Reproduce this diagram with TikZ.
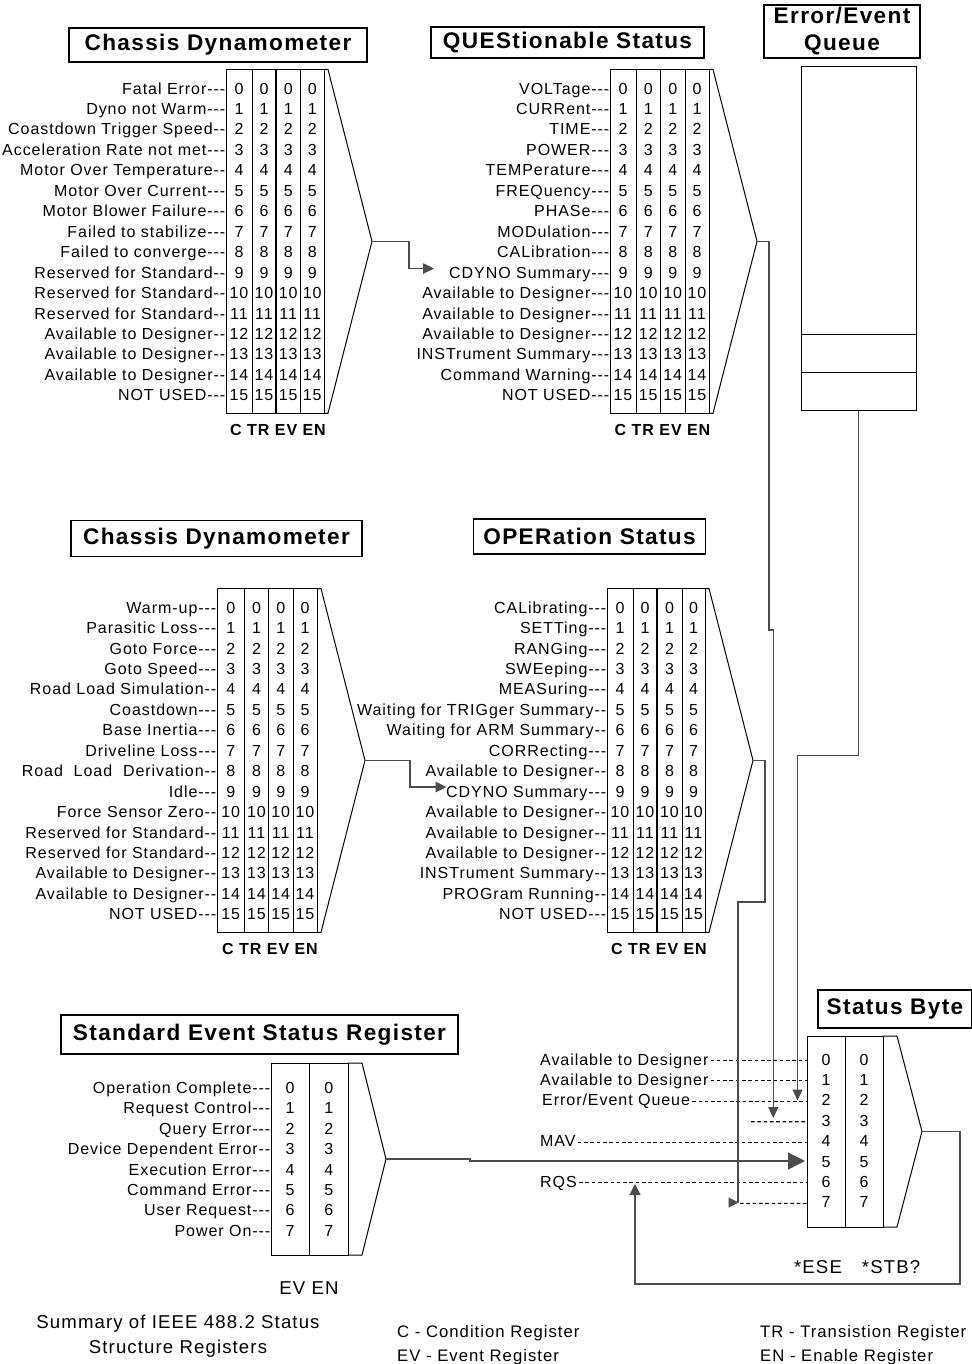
\documentclass[tikz,border=0pt]{standalone}
\usepackage{fontspec}
\setmainfont{Liberation Sans}[LetterSpace=6,Ligatures=TeXOff]
\usetikzlibrary{arrows.meta}
\newcommand\lblfont{\fontsize{16}{19}\selectfont}
\newcommand\ttlfont{\fontsize{22.6}{27}\selectfont\bfseries}
\newcommand\capfont{\fontsize{18.6}{22}\selectfont}
\newcommand\legfont{\fontsize{16.7}{20}\selectfont}
\tikzset{
  box/.style={draw=black,line width=1pt},
  thickdiv/.style={draw=black,line width=1.9pt},
  title/.style={draw=black,line width=1.4pt,inner sep=0pt,font=\ttlfont,align=center},
  dig/.style={font=\lblfont,anchor=base,inner sep=0pt},
  lbl/.style={font=\lblfont,anchor=base east,inner sep=0pt},
  lblw/.style={font=\lblfont,anchor=base west,inner sep=0pt},
  colhdr/.style={font=\lblfont\bfseries,inner sep=0pt},
  conn/.style={draw=black!70,line width=1.2pt},
  dashln/.style={draw=black,line width=1.1pt,dash pattern=on 3.6pt off 2.7pt},
  legtxt/.style={font=\legfont,anchor=base west,inner sep=0pt},
  captxt/.style={font=\capfont,inner sep=0pt},
}
% #1 name, #2 left, #3 div1, #4 thick div, #5 div3, #6 right, #7 y of row 0
\newcommand\fourreg[7]{%
  \pgfmathsetmacro\rgTop{#7-19}%
  \pgfmathsetmacro\rgBot{#7+15*20.45+18}%
  \pgfmathsetmacro\rgMid{(\rgTop+\rgBot)/2}%
  \draw[box] (#2,\rgTop) rectangle (#6,\rgBot);
  \draw[box] (#3,\rgTop) -- (#3,\rgBot) (#5,\rgTop) -- (#5,\rgBot);
  \draw[thickdiv] (#4,\rgTop) -- (#4,\rgBot);
  \draw[box] (#6,\rgTop) -- ({#6+4},\rgTop) -- ({#6+48},\rgMid) coordinate (#1-tip)
     -- ({#6+4},\rgBot) -- (#6,\rgBot);
  \foreach \i in {0,...,15}{%
    \node[dig] (#1-a\i) at ({(#2+#3)/2},{#7+20.45*\i+5.6}) {\i};
    \node[dig] (#1-b\i) at ({(#3+#4)/2},{#7+20.45*\i+5.6}) {\i};
    \node[dig] (#1-c\i) at ({(#4+#5)/2},{#7+20.45*\i+5.6}) {\i};
    \node[dig] (#1-d\i) at ({(#5+#6)/2},{#7+20.45*\i+5.6}) {\i};
  }
  \node[colhdr] (#1-hdr) at ({(#2+#6)/2+3},{\rgBot+17}) {C TR EV EN};
}
\begin{document}
\begin{tikzpicture}[x=1pt,y=-1pt]
\useasboundingbox (0,0) rectangle (971,1364);
\fill[white] (0,0) rectangle (971,1364);

% ---------- titles ----------
\node[title,minimum width=298pt,minimum height=34pt] (t-cdA) at (218,45) {Chassis Dynamometer};
\node[title,minimum width=273pt,minimum height=31pt] (t-qs) at (567.5,42.5) {QUEStionable Status};
\node[title,minimum width=156pt,minimum height=53pt] (t-eq) at (842,31.5) {Error/Event\\Queue};
\node[title,minimum width=291pt,minimum height=36pt] (t-cdB) at (216.5,538.5) {Chassis Dynamometer};
\node[title,minimum width=232pt,minimum height=35pt] (t-op) at (589.5,536.5) {OPERation Status};
\node[title,minimum width=397pt,minimum height=39pt] (t-se) at (259.5,1034.5) {Standard Event Status Register};
\node[title,minimum width=154pt,minimum height=38pt] (t-sb) at (895,1009) {Status Byte};

% ---------- 16-bit registers ----------
\fourreg{cdA}{226}{252}{276}{300.5}{324}{88.5}
\fourreg{qs}{610}{636}{660.5}{685}{709}{88.5}
\fourreg{cdB}{217}{244.5}{268.5}{293}{317}{607.5}
\fourreg{op}{607}{633}{657}{682}{705}{607.5}

\foreach \lab [count=\i from 0] in {Fatal Error---, Dyno not Warm---, Coastdown Trigger Speed--,
  Acceleration Rate not met---, Motor Over Temperature--, Motor Over Current---,
  Motor Blower Failure---, Failed to stabilize---, Failed to converge---,
  Reserved for Standard--, Reserved for Standard--, Reserved for Standard--,
  Available to Designer--, Available to Designer--, Available to Designer--, NOT USED---}
  \node[lbl] (cdA-l\i) at (225.5,{88.5+20.45*\i+5.6}) {\lab};

\foreach \lab [count=\i from 0] in {VOLTage---, CURRent---, TIME---, POWER---, TEMPerature---,
  FREQuency---, PHASe---, MODulation---, CALibration---, CDYNO Summary---,
  Available to Designer---, Available to Designer---, Available to Designer---,
  INSTrument Summary---, Command Warning---, NOT USED---}
  \node[lbl] (qs-l\i) at (609.5,{88.5+20.45*\i+5.6}) {\lab};

\foreach \lab [count=\i from 0] in {Warm-up---, Parasitic Loss---, Goto Force---, Goto Speed---,
  Road Load Simulation--, Coastdown---, Base Inertia---, Driveline Loss---,
  Road\ \ Load\ \ Derivation--, Idle---, Force Sensor Zero--, Reserved for Standard--,
  Reserved for Standard--, Available to Designer--, Available to Designer--, NOT USED---}
  \node[lbl] (cdB-l\i) at (216.5,{607.5+20.45*\i+5.6}) {\lab};

\foreach \lab [count=\i from 0] in {CALibrating---, SETTing---, RANGing---, SWEeping---,
  MEASuring---, Waiting for TRIGger Summary--, Waiting for ARM Summary--, CORRecting---,
  Available to Designer--, CDYNO Summary---, Available to Designer--, Available to Designer--,
  Available to Designer--, INSTrument Summary--, PROGram Running--, NOT USED---}
  \node[lbl] (op-l\i) at (606.5,{607.5+20.45*\i+5.6}) {\lab};

% ---------- error / event queue ----------
\node[draw=black,line width=1pt,minimum width=115pt,minimum height=343pt,inner sep=0pt] (queue) at (858.5,238.5) {};
\draw[box] (801,334) -- (916,334) (801,372.5) -- (916,372.5);

% ---------- standard event status register ----------
\draw[box] (271,1063) rectangle (348,1255);
\draw[box] (309.5,1063) -- (309.5,1255);
\draw[box] (348,1063) -- (362,1063) -- (386,1159) coordinate (se-tip) -- (362,1255) -- (348,1255);
\foreach \i in {0,...,7}{
  \node[dig] (se-a\i) at (290,{1088+20.35*\i+5.6}) {\i};
  \node[dig] (se-b\i) at (328.7,{1088+20.35*\i+5.6}) {\i};
}
\foreach \lab [count=\i from 0] in {Operation Complete---, Request Control---, Query Error---,
  Device Dependent Error--, Execution Error---, Command Error---, User Request---, Power On---}
  \node[lbl] (se-l\i) at (270.5,{1088+20.35*\i+5.6}) {\lab};
\node[captxt] (se-hdr) at (309,1288) {EV EN};

% ---------- status byte ----------
\draw[box] (807,1036) rectangle (883,1227);
\draw[box] (845,1036) -- (845,1227);
\draw[box] (883,1036) -- (897,1036) -- (922,1131.5) coordinate (sb-tip) -- (897,1227) -- (883,1227);
\foreach \i in {0,...,7}{
  \node[dig] (sb-a\i) at (826,{1059.5+20.4*\i+5.6}) {\i};
  \node[dig] (sb-b\i) at (864,{1059.5+20.4*\i+5.6}) {\i};
  \coordinate (sb-r\i) at (807,{1060.5+20.4*\i});
}
\node[lblw] (sb-l0) at (540,{1059.5+5.6}) {Available to Designer};
\node[lblw] (sb-l1) at (540,{1059.5+20.4+5.6}) {Available to Designer};
\node[lblw] (sb-l2) at (542,{1059.5+40.8+5.6}) {Error/Event Queue};
\node[lblw] (sb-l4) at (540,{1059.5+81.6+5.6}) {MAV};
\node[lblw] (sb-l6) at (540,{1059.5+122.4+5.6}) {RQS};
\draw[dashln] ([xshift=2pt]sb-l0.east |- sb-r0) -- (sb-r0);
\draw[dashln] ([xshift=2pt]sb-l1.east |- sb-r1) -- (sb-r1);
\draw[dashln] ([xshift=2pt]sb-l2.east |- sb-r2) -- (sb-r2);
\draw[dashln] (751,{1060.5+61.2}) -- (sb-r3);
\draw[dashln] ([xshift=2pt]sb-l4.east |- sb-r4) -- (sb-r4);
\draw[dashln] ([xshift=2pt]sb-l6.east |- sb-r6) -- (sb-r6);
\draw[dashln] (740,{1060.5+142.8}) -- (sb-r7);
\node[captxt] (ese) at (818,1267) {*ESE};
\node[captxt] (stb) at (891,1267) {*STB?};

\coordinate (qs-in9) at (434,{88.5+20.45*9-4});
\coordinate (op-in9) at (446.5,{607.5+20.45*9-4.5});
\coordinate (sb-in2) at (797.5,1100.5);
\coordinate (sb-in3) at (773.3,1118);
\coordinate (sb-in5) at (805,1161);
\coordinate (sb-in6) at (635,1184);
\coordinate (sb-in7) at (738.5,1202.5);

% ---------- connectors ----------
\draw[conn,-{Triangle[length=11pt,width=10.5pt]}] (cdA-tip) -- ++(37,0) |- (qs-in9);
\draw[conn,-{Triangle[length=11pt,width=10.5pt]}] (cdB-tip) -- ++(45,0) |- (op-in9);
\draw[conn,-{Triangle[length=11pt,width=10pt]}] (qs-tip) -- ++(12,0) |- (773.3,630) -- (sb-in3);
\draw[conn,-{Triangle[length=11pt,width=10pt]}] (queue.south) -- ++(0,345) -| (sb-in2);
\draw[conn] (op-tip) -- ++(12,0) |- (738,902) -- (738,1202.5);
\draw[conn,-{Triangle[length=10pt,width=10pt]}] ([xshift=-10pt]sb-in7) -- (sb-in7);
\draw[conn,-{Triangle[length=17pt,width=17pt]}] (se-tip) -- ++(84,0) -- ++(0,2) -- (sb-in5);
\draw[conn,-{Triangle[length=11pt,width=11pt]}] (sb-tip) -- ++(38,0) |- (635,1284) -- (sb-in6);

% ---------- captions ----------
\node[captxt] (sum1) at (178,1324) {Summary of IEEE 488.2 Status};
\node[captxt] (sum2) at (178,1349) {Structure Registers};
\node[legtxt] (leg1) at (397,1337) {C - Condition Register};
\node[legtxt] (leg2) at (397,1361) {EV - Event Register};
\node[legtxt] (leg3) at (760,1337) {TR - Transistion Register};
\node[legtxt] (leg4) at (760,1361) {EN - Enable Register};
\end{tikzpicture}
\end{document}
